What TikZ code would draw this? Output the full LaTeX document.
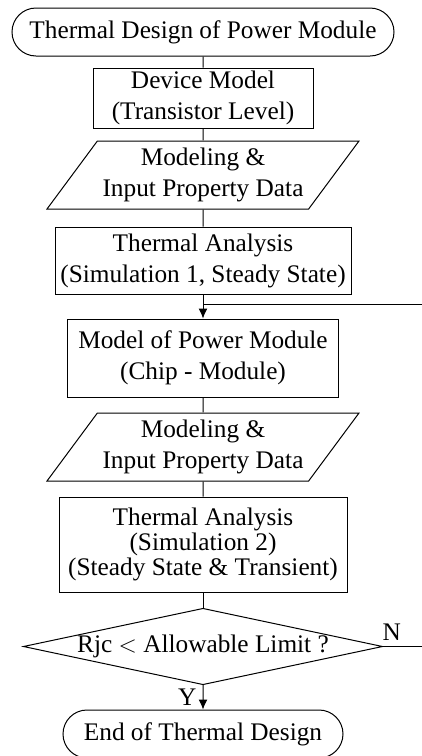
\documentclass[tikz,border=0pt]{standalone}
\usepackage{fontspec}
\setmainfont{Liberation Serif}
\usetikzlibrary{shapes.geometric,shapes.misc,arrows.meta}
\begin{document}
\begin{tikzpicture}[x=0.5pt,y=-0.5pt,line width=0.5pt,
	every node/.style={font=\fontsize{12.65}{15.5}\selectfont, align=center, inner sep=0pt},
	terminal/.style={draw, rounded rectangle, minimum height=24pt},
	process/.style={draw, rectangle},
	iodata/.style={draw, trapezium, trapezium left angle=47, trapezium right angle=133,
		trapezium stretches body, minimum width=156pt, minimum height=34pt},
	decision/.style={draw, diamond, aspect=4.7},
	arrow/.style={-{Latex[length=5pt,width=4.5pt]}},
	tag/.style={inner sep=3pt}]
	\useasboundingbox (0,0) rectangle (422,756);
	
	% main flow
	\node[terminal, minimum width=191pt] (start) at (203,32) {Thermal Design of Power Module};
	\node[process, minimum width=110pt, minimum height=30pt] (device) at (203,98) {Device Model\\(Transistor Level)};
	\node[iodata] (input1) at (203,175) {Modeling \&\\Input Property Data};
	\node[process, minimum width=148pt, minimum height=33.5pt] (sim1) at (203,260.5) {Thermal Analysis\\(Simulation 1, Steady State)};
	\node[process, minimum width=135.5pt, minimum height=39pt] (module) at (203,358) {Model of Power Module\\(Chip - Module)};
	\node[iodata] (input2) at (203,447) {Modeling \&\\Input Property Data};
	\node[process, minimum width=144pt, minimum height=47.5pt, font=\fontsize{12.65}{12.5}\selectfont] (sim2) at (203,544.5) {Thermal Analysis\\(Simulation 2)\\(Steady State \& Transient)};
	\node[decision] (check) at (203,646.5) {Rjc $<$ Allowable Limit ?};
	\node[terminal, minimum width=140pt] (finish) at (203,734) {End of Thermal Design};
	
	% connectors
	\draw (start) -- (device);
	\draw (device) -- (input1);
	\draw (input1) -- (sim1);
	\draw[arrow] (sim1) -- (module);
	\draw (module) -- (input2);
	\draw (input2) -- (sim2);
	\draw (sim2) -- (check);
	\draw[arrow] (check) -- node[tag, left] (yes) {Y} (finish);
	
	% loop back (N)
	\coordinate (join) at (203,304);
	\coordinate (back) at (422,304);
	\coordinate (nout) at (422,646.5);
	\draw (join) -- (back);
	\draw (check.east) -- node[tag, above, pos=0.22] (no) {N} (nout);
\end{tikzpicture}
\end{document}
